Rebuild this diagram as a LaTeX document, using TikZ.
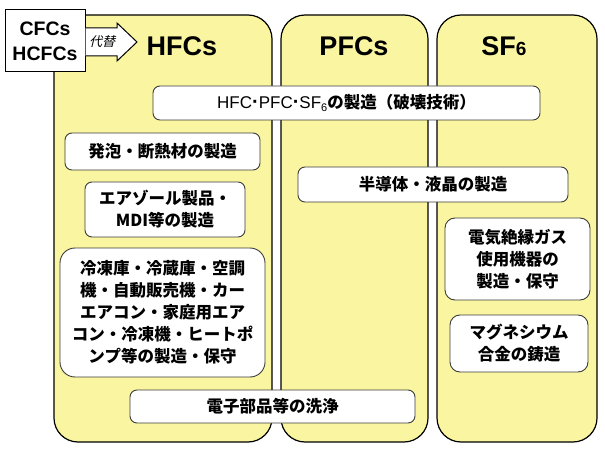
\documentclass[tikz,border=0pt]{standalone}
\usepackage{fontspec}
\setmainfont{Noto Sans CJK JP}
\newfontfamily\lat{Liberation Sans}
\definecolor{panelyellow}{RGB}{250,245,160}
\definecolor{boxline}{RGB}{60,60,60}
\begin{document}
\begin{tikzpicture}[x=1pt,y=-1pt,
  panel/.style={draw=black,line width=1.2pt,fill=panelyellow,rounded corners=24pt,inner sep=0pt},
  wbox/.style={draw=boxline,line width=0.9pt,fill=white,rounded corners=7pt,inner sep=0pt,align=center,font=\fontsize{16.5}{22}\selectfont\bfseries},
  title/.style={font=\lat\fontsize{27}{30}\selectfont\bfseries},
  arrowshape/.style={draw=black,line width=1pt,fill=white,line join=miter}
]
\useasboundingbox (0,0) rectangle (605,449);
\fill[white] (0,0) rectangle (605,449);
% panels
\node[panel,minimum width=218pt,minimum height=427pt] (phfc) at (163,228.5) {};
\node[panel,minimum width=147pt,minimum height=427pt] (ppfc) at (354.5,228.5) {};
\node[panel,minimum width=160pt,minimum height=427pt] (psf) at (517,228.5) {};
% titles
\node[title] (thfc) at (182,46) {HFCs};
\node[title] (tpfc) at (354,46) {PFCs};
\node[title] (tsf) at (504,46) {SF\fontsize{19}{20}\selectfont 6};
% CFCs box
\node[draw=black,line width=1pt,fill=white,inner sep=0pt,minimum width=80pt,minimum height=62pt,align=center,font=\lat\fontsize{19.5}{25}\selectfont\bfseries] (cfc) at (45,41) {CFCs\\HCFCs};
% arrow
\coordinate (atip) at (137,42);
\draw[arrowshape] (cfc.east |- 0,28) -- (117,28) -- (117,23) -- (atip) -- (117,61) -- (117,56) -- (cfc.east |- 0,56);
\node[font=\fontsize{13}{14}\selectfont\addfontfeature{FakeSlant=0.25}] (subst) at (102,42) {代替};
% boxes
\node[wbox,minimum width=387pt,minimum height=34pt] (top) at (346.5,103) {{\lat\mdseries\fontsize{17}{22}\selectfont HFC{\fontsize{20}{22}\selectfont\textbf{·}}PFC{\fontsize{20}{22}\selectfont\textbf{·}}SF\raisebox{-0.35ex}{\fontsize{11}{12}\selectfont 6}}の製造（破壊技術）};
\node[wbox,minimum width=195pt,minimum height=37pt] (foam) at (162.5,151.5) {発泡・断熱材の製造};
\node[wbox,minimum width=160pt,minimum height=55pt] (aero) at (165,209.5) {エアゾール製品・\\MDI等の製造};
\node[wbox,rounded corners=15pt,minimum width=205pt,minimum height=129pt] (refr) at (162.5,312.5) {冷凍庫・冷蔵庫・空調\\機・自動販売機・カー\\エアコン・家庭用エア\\コン・冷凍機・ヒートポ\\ンプ等の製造・保守};
\node[wbox,minimum width=285pt,minimum height=33pt] (clean) at (272.5,406.5) {電子部品等の洗浄};
\node[wbox,minimum width=270pt,minimum height=35pt] (semi) at (433,184.5) {半導体・液晶の製造};
\node[wbox,rounded corners=10pt,minimum width=145pt,minimum height=82pt] (elec) at (517.5,259) {電気絶縁ガス\\使用機器の\\製造・保守};
\node[wbox,rounded corners=10pt,minimum width=138pt,minimum height=57pt] (mg) at (519,343.5) {マグネシウム\\合金の鋳造};
\end{tikzpicture}
\end{document}
